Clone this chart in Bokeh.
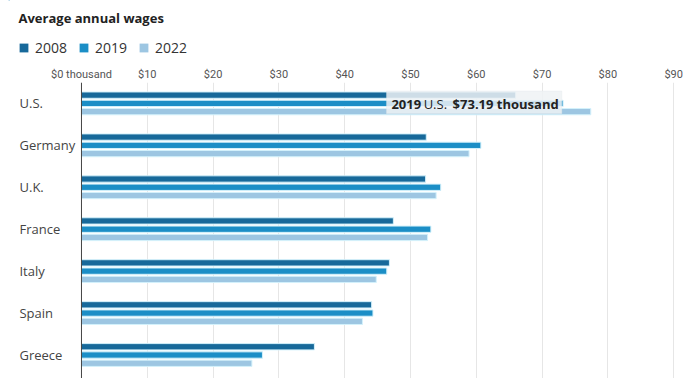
from bokeh.plotting import figure
from bokeh.layouts import column
from bokeh.models import (Range1d, FixedTicker, Span, Label, Legend, LegendItem,
                          BoxAnnotation, ColumnDataSource)
from bokeh.core.properties import value
from bokeh.embed import file_html
from bokeh.resources import INLINE

countries = ["U.S.", "Germany", "U.K.", "France", "Italy", "Spain", "Greece"]
years = ["2008", "2019", "2022"]
wages_2008 = [66.0, 52.4, 52.3, 47.4, 46.8, 44.1, 35.4]
wages_2019 = [73.19, 60.7, 54.6, 53.1, 46.4, 44.3, 27.5]
wages_2022 = [77.4, 58.9, 53.9, 52.6, 44.8, 42.7, 25.9]
tick_values = [0, 10, 20, 30, 40, 50, 60, 70, 80, 90]
tick_labels = ["$0 thousand", "$10", "$20", "$30", "$40", "$50", "$60", "$70", "$80", "$90"]
colors = ["#17699a", "#1b8ec6", "#9dc6e2"]
title_text = "Average annual wages"

FONT = "Open Sans"
W = 692
TOP_H = 64
MAIN_H = 314

# ---------- header figure: title + legend ----------
ph = figure(width=W, height=TOP_H, output_backend="svg", toolbar_location=None,
            x_range=Range1d(0, W - 8), y_range=Range1d(TOP_H, 0),
            min_border_left=8, min_border_right=0, min_border_bottom=0, min_border_top=0)
ph.outline_line_color = None
ph.axis.visible = False
ph.grid.visible = False
ph.text(x=[10], y=[17], text=[title_text], text_baseline="middle", text_align="left",
        text_font=value(FONT), text_font_style="bold", text_font_size="13px",
        text_color="#222222")
dummies = []
for col in colors:
    dummies.append(ph.hbar(y=[-100], left=[0], right=[1], height=1,
                           fill_color=col, line_color=None))
legend = Legend(items=[LegendItem(label=y, renderers=[r]) for y, r in zip(years, dummies)],
                orientation="horizontal", location=(10, 7))
legend.glyph_width = 11
legend.glyph_height = 11
legend.label_standoff = 6
legend.spacing = 11
legend.padding = 0
legend.margin = 0
legend.label_height = 16
legend.border_line_color = None
legend.background_fill_alpha = 0
legend.label_text_font = FONT
legend.label_text_font_size = "14px"
legend.label_text_color = "#333333"
ph.add_layout(legend)

# ---------- main chart ----------
p = figure(width=W, height=MAIN_H, output_backend="svg", toolbar_location=None,
           x_range=Range1d(-11.09, 92.86), y_range=Range1d(6.56, -0.498),
           x_axis_location="above", min_border_left=8, min_border_right=0,
           min_border_bottom=0, min_border_top=0)
p.outline_line_color = None

p.yaxis.visible = False
p.ygrid.visible = False
ticker = FixedTicker(ticks=tick_values)
p.xaxis.ticker = ticker
p.xaxis.major_label_overrides = {v: l for v, l in zip(tick_values, tick_labels)}
p.xaxis.axis_line_color = None
p.xaxis.major_tick_line_color = None
p.xaxis.minor_tick_line_color = None
p.xaxis.major_tick_out = 0
p.xaxis.major_tick_in = 0
p.xaxis.major_label_standoff = 2
p.xaxis.major_label_text_font = "Roboto"
p.xaxis.major_label_text_font_size = "11px"
p.xaxis.major_label_text_color = "#555555"
p.xgrid.ticker = ticker
p.xgrid.grid_line_color = "#e6e6e6"
p.xgrid.grid_line_width = 1

offsets = [-0.197, 0.0, 0.197]
series = [wages_2008, wages_2019, wages_2022]
for j, (vals, col) in enumerate(zip(series, colors)):
    src = ColumnDataSource(dict(y=[i + offsets[j] for i in range(len(countries))],
                                right=vals))
    p.hbar(y="y", left=0, right="right", height=0.15, source=src,
           fill_color=col, line_color="#d3f1fb", line_width=1)

p.add_layout(Span(location=0, dimension="height", line_color="#444444", line_width=1))

p.text(x=[-9.42] * len(countries), y=list(range(len(countries))), text=countries,
       text_baseline="middle", text_align="left", text_font=value(FONT),
       text_font_size="13px", text_color="#444444")

# tooltip
p.add_layout(BoxAnnotation(left=46.35, right=73.0, top=-0.295, bottom=0.25,
                           fill_color="#eef2f5", fill_alpha=0.85,
                           line_color="#dde3e8", line_width=1))
tip_parts = [("2019", "bold", 47.1), ("U.S.", "normal", 52.0), ("$73.19 thousand", "bold", 56.4)]
for txt, style, xx in tip_parts:
    p.add_layout(Label(x=xx, y=0.02, text=txt, text_font=FONT, text_font_style=style,
                       text_font_size="13px", text_color="#222222",
                       text_baseline="middle", text_align="left"))

layout = column(ph, p, spacing=0)
open("out.html", "w").write(file_html(layout, INLINE))
